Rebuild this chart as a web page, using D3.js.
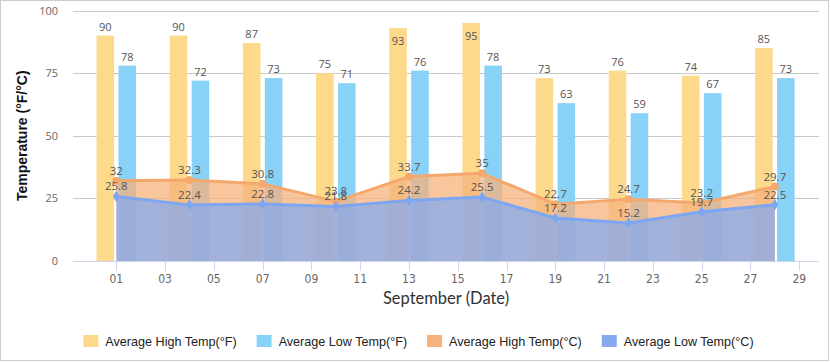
<!DOCTYPE html>
<html><head><meta charset="utf-8">
<script src="https://cdn.jsdelivr.net/npm/d3@7"></script>
<style>body{margin:0;background:#fff}svg{display:block}</style>
</head><body>
<svg id="c" width="830" height="362"></svg>
<script>
const days = [1, 4, 7, 10, 13, 16, 19, 22, 25, 28];
const highF = [90, 90, 87, 75, 93, 95, 73, 76, 74, 85];
const lowF = [78, 72, 73, 71, 76, 78, 63, 59, 67, 73];
const highC = [32, 32.3, 30.8, 23.8, 33.7, 35, 22.7, 24.7, 23.2, 29.7];
const lowC = [25.8, 22.4, 22.8, 21.8, 24.2, 25.5, 17.2, 15.2, 19.7, 22.5];
const xTicks = [1, 3, 5, 7, 9, 11, 13, 15, 17, 19, 21, 23, 25, 27, 29];
const yTicks = [0, 25, 50, 75, 100];
const seriesNames = ["Average High Temp(°F)", "Average Low Temp(°F)", "Average High Temp(°C)", "Average Low Temp(°C)"];
const colors = ["#FCD98B", "#88D2F8", "#F5B27C", "#86A9EF"];
const lineColors = ["#FCD98B", "#88D2F8", "#F4A86E", "#7CA6F2"];

const svg = d3.select("#c");
const L = 73, R = 819, T = 10.5, B = 261;
const x = d3.scaleLinear().domain([-0.775, 29.81]).range([L, R]);
const y = d3.scaleLinear().domain([0, 100]).range([B, T]);

svg.append("rect").attr("x", 0.5).attr("y", 0.5).attr("width", 828).attr("height", 360)
  .attr("fill", "#fff").attr("stroke", "#cccccc");

// grid
svg.append("g").selectAll("line").data(yTicks.filter(d => d > 0)).join("line")
  .attr("x1", L).attr("x2", R).attr("y1", d => Math.round(y(d)) + 0.5).attr("y2", d => Math.round(y(d)) + 0.5)
  .attr("stroke", "#c8c8c8").attr("stroke-width", 1);

// y labels
svg.append("g").selectAll("text").data(yTicks).join("text")
  .attr("x", 58).attr("y", d => y(d) + 4).attr("text-anchor", "end")
  .attr("font-family", "'Open Sans', sans-serif").attr("font-size", 11).attr("fill", "#666")
  .text(d => d);

// y title
svg.append("text").attr("transform", `translate(27,${(T + B) / 2}) rotate(-90)`)
  .attr("text-anchor", "middle").attr("font-family", "'Liberation Sans', Arial, sans-serif")
  .attr("font-weight", "bold").attr("font-size", 14).attr("fill", "#111")
  .text("Temperature (°F/°C)");

// bars
const groupW = (x(3) - x(0)) * 0.6;
const inner = d3.scaleBand().domain([0, 1]).range([-groupW / 2, groupW / 2]).paddingInner(0.2).paddingOuter(0.1);
const barData = [];
days.forEach((d, i) => {
  barData.push({ day: d, v: highF[i], s: 0 });
  barData.push({ day: d, v: lowF[i], s: 1 });
});
svg.append("g").selectAll("rect").data(barData).join("rect")
  .attr("x", d => x(d.day) + inner(d.s)).attr("width", inner.bandwidth())
  .attr("y", d => y(d.v)).attr("height", d => y(0) - y(d.v))
  .attr("fill", d => colors[d.s]);

// areas
function drawArea(vals, ci, marker) {
  const pts = days.map((d, i) => ({ day: d, v: vals[i] }));
  const area = d3.area().x(d => x(d.day)).y0(y(0)).y1(d => y(d.v));
  const line = d3.line().x(d => x(d.day)).y(d => y(d.v));
  svg.append("path").datum(pts).attr("d", area).attr("fill", colors[ci]).attr("fill-opacity", 0.75);
  svg.append("path").datum(pts).attr("d", line).attr("fill", "none").attr("stroke", lineColors[ci]).attr("stroke-width", 3)
    .attr("stroke-linejoin", "round");
  const sym = d3.symbol().type(marker === "diamond" ? d3.symbolDiamond : d3.symbolCircle).size(marker === "diamond" ? 40 : 50);
  svg.append("g").selectAll("path").data(pts).join("path")
    .attr("transform", d => `translate(${x(d.day)},${y(d.v)})`).attr("d", sym).attr("fill", lineColors[ci]);
}
drawArea(highC, 2, "circle");
drawArea(lowC, 3, "diamond");

// x axis
svg.append("line").attr("x1", L).attr("x2", R).attr("y1", B + 0.5).attr("y2", B + 0.5).attr("stroke", "#ccd6eb");
svg.append("g").selectAll("line").data(xTicks).join("line")
  .attr("x1", d => Math.round(x(d)) + 0.5).attr("x2", d => Math.round(x(d)) + 0.5)
  .attr("y1", B).attr("y2", B + 10).attr("stroke", "#ccd6eb");
svg.append("g").selectAll("text").data(xTicks).join("text")
  .attr("x", d => x(d)).attr("y", 283).attr("text-anchor", "middle")
  .attr("font-family", "'Liberation Sans Narrow', 'DejaVu Sans Condensed', sans-serif").attr("font-size", 12).attr("fill", "#666")
  .text(d => d3.format("02d")(d));
svg.append("text").attr("x", (L + R) / 2).attr("y", 304).attr("text-anchor", "middle")
  .attr("font-family", "Lato, sans-serif").attr("font-size", 16.5).attr("fill", "#333")
  .text("September (Date)");

// data labels
const lblFont = "'Open Sans', sans-serif";
svg.append("g").selectAll("text").data(barData).join("text")
  .attr("x", d => x(d.day) + inner(d.s) + inner.bandwidth() / 2)
  .attr("y", d => (y(d.v) - 20 < T) ? y(d.v) + 16.5 : y(d.v) - 5)
  .attr("text-anchor", "middle").attr("font-family", lblFont).attr("font-size", 11).attr("fill", "#555")
  .text(d => d.v);
[highC, lowC].forEach(vals => {
  svg.append("g").selectAll("text").data(days.map((d, i) => ({ day: d, v: vals[i] }))).join("text")
    .attr("x", d => x(d.day)).attr("y", d => y(d.v) - 6)
    .attr("text-anchor", "middle").attr("font-family", lblFont).attr("font-size", 11.5).attr("fill", "#555")
    .text(d => d.v);
});

// legend
const lg = svg.append("g");
const items = lg.selectAll("g").data(seriesNames).join("g");
items.append("rect").attr("width", 15).attr("height", 12).attr("y", 335).attr("fill", (d, i) => colors[i]);
items.append("text").attr("x", 22).attr("y", 346).attr("font-family", "'Liberation Sans', Arial, sans-serif")
  .attr("font-size", 12.6).attr("fill", "#222").text(d => d);
let cx = 0;
items.each(function () {
  const g = d3.select(this);
  g.attr("transform", `translate(${cx},0)`);
  cx += 22 + g.select("text").node().getComputedTextLength() + 20;
});
const total = cx - 20;
lg.attr("transform", `translate(${418.5 - total / 2},0)`);
</script>
</body></html>
